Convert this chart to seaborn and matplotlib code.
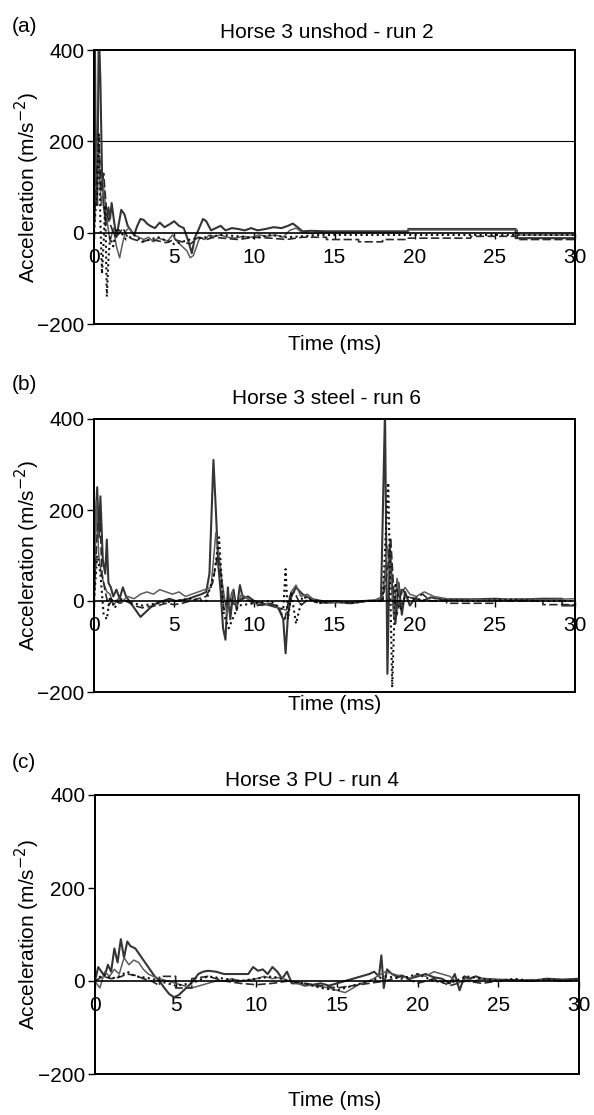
import matplotlib
matplotlib.use('Agg')
import matplotlib.pyplot as plt
import pandas as pd
import seaborn as sns

# Trazas: pares (tiempo ms, aceleracion m/s^-2)
a_solido = [(0, 0), (0.05, 460), (0.12, 120), (0.2, 60), (0.3, 450), (0.4, 330), (0.5, 130), (0.6, 60),
            (0.75, 20), (0.9, 55), (1.0, 30), (1.1, 65), (1.25, 25), (1.4, -10), (1.55, 20), (1.7, 50),
            (1.9, 40), (2.1, 15), (2.3, 5), (2.5, -5), (2.7, 15), (2.9, 30), (3.1, 28), (3.3, 20), (3.5, 15),
            (3.8, 10), (4.1, 22), (4.4, 12), (4.7, 18), (5.0, 25), (5.3, 15), (5.6, 10), (5.9, -20), (6.1, -45),
            (6.3, -10), (6.5, 5), (6.8, 30), (7.0, 25), (7.3, 5), (7.6, 10), (7.9, 15), (8.2, 5), (8.6, 10),
            (9.0, 8), (9.4, 5), (9.8, 10), (10.2, 5), (10.7, 8), (11.2, 12), (11.7, 10), (12.1, 15), (12.4, 20),
            (12.7, 12), (13.0, 3), (13.5, 4), (14.5, 3), (19.6, 3), (19.6, 8), (26.3, 8), (26.3, -12), (30, -12)]
a_gris = [(0, 0), (0.1, 80), (0.2, 200), (0.3, 150), (0.45, 60), (0.6, 100), (0.8, 30), (1.0, -20), (1.2, 10),
          (1.4, -30), (1.6, -55), (1.8, -20), (2.0, 5), (2.2, 10), (2.5, -5), (2.8, -10), (3.1, -15), (3.4, -10),
          (3.7, -20), (4.0, -12), (4.3, -15), (4.6, -18), (4.9, -5), (5.2, -20), (5.5, -30), (5.8, -40),
          (6.0, -55), (6.2, -50), (6.4, -30), (6.6, -10), (6.9, -15), (7.2, -5), (7.5, -8), (7.9, -5), (8.3, -10),
          (8.8, -12), (9.3, -8), (9.8, -10), (10.3, -5), (10.8, -8), (11.3, -5), (11.8, -10), (12.2, 5),
          (12.6, 10), (13.0, 0), (13.6, -2), (14.5, 0), (19.6, 0), (19.6, 6), (26.4, 6), (26.4, -5), (30, -5)]
a_guiones = [(0, 0), (0.15, 120), (0.3, 210), (0.45, 90), (0.6, 130), (0.8, 40), (1.0, 20), (1.2, 0),
             (1.5, -5), (1.8, 10), (2.1, -10), (2.5, -15), (3.0, -20), (3.5, -15), (4.0, -18), (4.5, -22),
             (5.0, -15), (5.5, -20), (6.0, -25), (6.5, -10), (7.0, -15), (7.5, -10), (8.0, -12), (9.0, -15),
             (10.0, -10), (11.0, -12), (12.0, -15), (13.0, -10), (14.5, -10), (14.5, -15), (16.5, -15),
             (16.5, -20), (18.0, -20), (18.0, -15), (19.6, -15), (19.6, -12), (23.5, -12), (23.5, -8),
             (26.4, -8), (26.4, -15), (30, -15)]
a_puntos = [(0, 0), (0.1, 50), (0.2, 100), (0.3, 215), (0.4, 20), (0.5, -90), (0.6, -20), (0.7, 60),
            (0.8, -140), (0.9, -60), (1.0, -10), (1.2, -30), (1.4, 10), (1.7, 0), (2.0, -15), (2.5, -5),
            (3.0, -20), (4.0, -10), (5.0, -25), (6.0, -15), (7.0, -10), (8.0, -5), (9.0, -8), (10.0, -12),
            (11.0, -5), (12.0, -10), (13.0, -8), (14.0, -5), (30, -5)]

b_solido = [(0, 0), (0.1, 180), (0.2, 250), (0.3, 140), (0.4, 230), (0.55, 90), (0.7, 60), (0.8, 135),
            (0.9, 40), (1.05, 30), (1.2, 10), (1.4, 25), (1.6, 5), (1.8, 30), (2.0, 10), (2.3, -5), (2.6, -20),
            (2.9, -35), (3.2, -25), (3.5, -15), (3.9, -5), (4.3, 0), (4.7, 5), (5.1, 0), (5.5, 2), (5.9, 5),
            (6.3, 10), (6.7, 15), (7.0, 20), (7.2, 60), (7.45, 310), (7.6, 200), (7.75, 80), (7.9, 20),
            (8.05, -60), (8.2, -85), (8.35, 30), (8.5, -40), (8.7, 25), (8.9, -20), (9.1, 35), (9.3, 5),
            (9.6, 10), (10.0, 0), (10.5, -5), (11.0, -10), (11.5, -15), (11.8, -40), (11.95, -115), (12.1, -30),
            (12.3, 10), (12.6, 30), (13.0, 15), (13.5, 5), (14.2, 0), (15, -2), (16, -5), (17, 0), (17.9, 2),
            (18.15, 420), (18.3, -160), (18.45, 120), (18.6, 30), (18.8, -50), (19.0, 40), (19.2, -30),
            (19.4, 20), (19.7, -10), (20.0, 5), (20.5, 0), (21, 8), (22, 2), (23, 3), (24, 4), (25, 5), (26, 3),
            (27, 4), (28, 5), (29.2, 5), (29.2, -10), (30, -10)]
b_gris = [(0, 0), (0.15, 220), (0.3, 100), (0.45, 60), (0.6, 40), (0.8, 20), (1.0, 15), (1.2, -10), (1.5, 5),
          (1.8, 0), (2.1, 10), (2.5, 5), (2.9, 15), (3.3, 20), (3.7, 15), (4.1, 25), (4.5, 20), (4.9, 15),
          (5.3, 20), (5.7, 10), (6.1, 15), (6.5, 20), (6.9, 25), (7.3, 30), (7.6, 150), (7.8, 100), (8.0, 40),
          (8.3, -30), (8.6, 20), (8.9, -10), (9.2, 15), (9.6, 5), (10.0, -5), (10.5, -10), (11.0, -5),
          (11.5, -15), (12.0, -20), (12.3, 20), (12.6, 35), (12.9, 10), (13.3, 15), (13.8, 0), (14.5, -5),
          (15.5, -3), (16.5, 0), (17.5, 2), (18.0, 10), (18.3, 120), (18.5, 60), (18.7, -40), (18.9, 50),
          (19.1, 10), (19.4, 30), (19.7, 15), (20.1, 10), (20.6, 20), (21.2, 10), (22, 5), (23, 5), (24, 3),
          (25, 2), (26, 4), (27, 5), (28, 3), (29, 4), (30, 5)]
b_guiones = [(0, 0), (0.2, 150), (0.35, 200), (0.5, 60), (0.7, 20), (0.9, -10), (1.2, 5), (1.6, -5), (2.0, 0),
             (2.5, -10), (3.0, -15), (3.5, -12), (4.0, -10), (4.5, -5), (5.0, -8), (5.5, -5), (6.0, 0),
             (6.5, 5), (7.0, 10), (7.4, 40), (7.7, 100), (7.9, 60), (8.1, -20), (8.4, 10), (8.8, -10),
             (9.2, 5), (9.7, 0), (10.2, -10), (10.8, -5), (11.4, -10), (11.9, -40), (12.2, 10), (12.5, 20),
             (12.9, -10), (13.4, 5), (14.0, -5), (15, 0), (16, -3), (17, 0), (18.0, 0), (18.35, 80),
             (18.5, 140), (18.7, 20), (18.9, -30), (19.2, 30), (19.5, 10), (20, 5), (20.5, 15), (21, 0),
             (22, 0), (22, -5), (25, -5), (25, 0), (28, 0), (28, -8), (30, -8)]
b_puntos = [(0, 0), (0.2, 100), (0.4, 60), (0.6, -30), (0.8, -40), (1.0, 10), (1.3, -15), (1.6, 5), (2.0, 0),
            (3.0, -10), (4.0, -5), (5.0, 0), (6.0, 5), (7.0, 0), (7.5, 60), (7.8, 140), (8.1, -30), (8.4, -60),
            (9.0, -10), (10.0, -5), (11.0, 0), (11.8, -20), (11.95, 70), (12.1, -40), (12.3, 20), (12.6, -50),
            (13.0, 10), (14.0, -5), (15.0, 0), (16.0, -5), (17.0, 0), (18.0, 0), (18.35, 260), (18.6, -190),
            (18.8, 40), (19.1, -20), (19.4, 10), (20, 5), (21, 0), (22, 2), (24, 0), (26, 3), (28, 0), (30, 0)]

c_solido = [(0, 0), (0.2, 30), (0.4, 20), (0.6, 10), (0.8, 35), (1.0, 20), (1.2, 70), (1.4, 40), (1.6, 90),
            (1.8, 50), (2.0, 85), (2.2, 75), (2.5, 70), (2.8, 55), (3.1, 40), (3.4, 25), (3.7, 10), (4.0, 0),
            (4.3, -15), (4.6, -28), (4.9, -35), (5.2, -30), (5.5, -20), (5.8, -10), (6.1, 0), (6.4, 15),
            (6.7, 20), (7.0, 22), (7.5, 20), (8.0, 15), (8.5, 15), (9.0, 15), (9.5, 15), (9.8, 30), (10.1, 22),
            (10.4, 25), (10.7, 15), (11.0, 30), (11.3, 20), (11.6, 5), (11.9, 20), (12.2, -5), (12.6, -5),
            (13.0, -10), (13.5, -8), (14.0, -5), (14.5, -10), (15.0, -5), (15.5, 0), (16.0, 5), (16.5, 10),
            (17.0, 15), (17.3, 20), (17.6, 10), (17.75, 55), (17.9, -15), (18.1, 25), (18.4, 15), (18.7, 10),
            (19.0, 12), (19.5, 5), (20.0, 10), (20.5, 15), (21.0, 8), (21.5, 5), (22.0, -5), (22.3, 15),
            (22.6, -20), (22.9, 10), (23.2, 5), (23.6, 10), (24.0, 5), (25, 3), (26, 2), (27, 0), (28, 5),
            (29, 3), (30, 5)]
c_gris = [(0, 0), (0.3, -15), (0.6, 20), (0.9, 10), (1.2, 25), (1.5, 15), (1.8, 50), (2.1, 35), (2.4, 45),
          (2.7, 40), (3.0, 25), (3.3, 15), (3.6, 10), (4.0, 5), (4.5, 0), (5.0, -5), (5.5, -10), (6.0, -15),
          (6.5, -10), (7.0, -5), (7.5, 0), (8.0, 0), (8.5, 5), (9.0, 0), (9.5, 2), (10, 5), (10.5, 10),
          (11, 5), (11.5, 8), (12, 0), (12.5, -5), (13, -8), (13.5, -10), (14, -12), (14.5, -15), (15, -20),
          (15.5, -25), (16, -15), (16.5, -5), (17, 0), (17.5, 10), (18, 20), (18.5, 15), (19, 10), (19.5, 5),
          (20, 15), (20.5, 10), (21, 20), (21.5, 15), (22, 10), (22.5, -5), (23, 5), (23.5, 0), (24, 5),
          (25, 2), (26, 0), (27, 3), (28, 2), (29, 0), (30, 2)]
c_guiones = [(0, 0), (0.5, 10), (1.0, 5), (1.5, 8), (2.0, 15), (2.5, 12), (3.0, 5), (3.5, 0), (4.0, -10),
             (4.0, 10), (5.0, 10), (5.0, -15), (6.0, -15), (6.0, 5), (7.0, 10), (7.5, 5), (8.0, 0), (9.0, -5),
             (10.0, -8), (11.0, -5), (12.0, 0), (13.0, -5), (14.0, -10), (15.0, -15), (16.0, -10), (17.0, -5),
             (18.0, 0), (19.0, 10), (20.0, -5), (21.0, 5), (22.0, -10), (23.0, 0), (24.0, -5), (25.0, 0),
             (26, 2), (27, 0), (28, 2), (29, 0), (30, 2)]
c_puntos = [(0, 0), (0.5, 15), (1.0, 5), (1.5, 10), (2.0, 20), (2.5, 10), (3.0, 8), (3.5, 5), (4.0, 0),
            (5.0, -10), (6.0, -5), (7.0, 10), (8.0, 5), (9.0, 0), (10, 5), (11, 10), (12, 0), (13, -5),
            (14, -15), (15, -20), (16, -10), (17, 0), (18, 10), (19, 5), (20, 15), (21, 0), (22, -5), (23, 10),
            (24, 5), (25, 0), (26, 5), (27, 0), (28, 3), (29, 0), (30, 2)]

titulos = ['Horse 3 unshod - run 2', 'Horse 3 steel - run 6', 'Horse 3 PU - run 4']
etiquetas = ['(a)', '(b)', '(c)']
ticks_x = [0, 5, 10, 15, 20, 25, 30]
ticks_y = [-200, 0, 200, 400]

paneles = [
    [a_solido, a_gris, a_guiones, a_puntos],
    [b_solido, b_gris, b_guiones, b_puntos],
    [c_solido, c_gris, c_guiones, c_puntos],
]

sns.set_theme(style='white')
plt.rcParams['font.family'] = ['Liberation Sans', 'DejaVu Sans']
plt.rcParams['axes.unicode_minus'] = True
plt.rcParams['text.color'] = 'black'

W, H = 594, 1115
fig = plt.figure(figsize=(W / 100, H / 100), dpi=100)

# cajas de cada panel en pixeles: izq, der, arriba, abajo
cajas = [(94, 575, 50, 324), (94, 575, 419, 692), (95, 579, 795, 1074)]
pos_titulo = [(327, 33), (326, 398), (312, 780)]
pos_letra = [26, 385, 763]
pos_xlabel = [345, 705, 1100]

estilos = [
    dict(color='#353535', linewidth=1.5, linestyle='-'),
    dict(color='#5c5c5c', linewidth=1.1, linestyle='-'),
    dict(color='#2a2a2a', linewidth=1.2, linestyle=(0, (5, 2))),
    dict(color='#111111', linewidth=1.5, linestyle=(0, (1, 1.6))),
]

fs = 15
for i, trazas in enumerate(paneles):
    l, r, t, b = cajas[i]
    ax = fig.add_axes([l / W, 1 - b / H, (r - l) / W, (b - t) / H])
    for j, traza in enumerate(trazas):
        df = pd.DataFrame(traza, columns=['tiempo', 'aceleracion'])
        sns.lineplot(data=df, x='tiempo', y='aceleracion', ax=ax, estimator=None, sort=False,
                     legend=False, **estilos[j])
    if i == 0:
        ax.axhline(200, color='black', linewidth=0.8, zorder=0)
    ax.set_xlim(0, 30)
    ax.set_ylim(-200, 400)
    ax.set_xlabel('')
    ax.set_ylabel('')
    # eje x cruza en cero, la caja se dibuja aparte
    ax.spines['bottom'].set_position(('data', 0))
    ax.spines['bottom'].set_linewidth(1.2)
    ax.spines['bottom'].set_color('black')
    for s in ['left', 'right', 'top']:
        ax.spines[s].set_linewidth(1.4)
        ax.spines[s].set_color('black')
    ax.add_patch(plt.Rectangle((0, 0), 1, 1, transform=ax.transAxes, fill=False,
                               edgecolor='black', linewidth=1.4, clip_on=False, zorder=5))
    ax.set_xticks(ticks_x)
    ax.set_yticks(ticks_y)
    ax.set_xticklabels([str(v) for v in ticks_x])
    ax.tick_params(axis='x', direction='out', length=4, width=1, pad=7, labelsize=fs,
                   colors='black', labelcolor='black')
    ax.tick_params(axis='y', direction='out', length=5, width=1, pad=2, labelsize=fs,
                   colors='black', labelcolor='black')
    ax.tick_params(left=True, bottom=True)
    ax.grid(False)

    fig.text(pos_titulo[i][0] / W, 1 - pos_titulo[i][1] / H, titulos[i], ha='center', va='center',
             fontsize=fs, color='black')
    fig.text(24 / W, 1 - pos_letra[i] / H, etiquetas[i], ha='center', va='center', fontsize=fs, color='black')
    fig.text(335 / W, 1 - pos_xlabel[i] / H, 'Time (ms)', ha='center', va='center', fontsize=fs, color='black')
    fig.text(27 / W, 1 - ((t + b) / 2) / H, 'Acceleration (m/s$^{-2}$)', ha='center', va='center',
             rotation=90, fontsize=fs, color='black')

fig.savefig('out.png', dpi=100, facecolor='white')
